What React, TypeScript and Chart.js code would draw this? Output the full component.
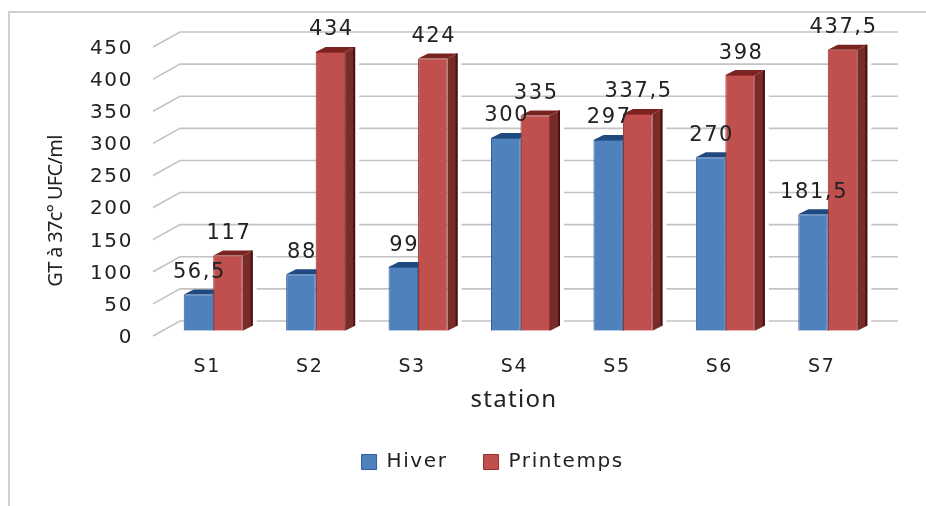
import React, { useEffect, useRef } from "react";
import { Chart, registerables } from "chart.js";

Chart.register(...registerables);

const categories = ["S1", "S2", "S3", "S4", "S5", "S6", "S7"];
const hiver = [56.5, 88, 99, 300, 297, 270, 181.5];
const printemps = [117, 434, 424, 335, 337.5, 398, 437.5];
const yTicks = [0, 50, 100, 150, 200, 250, 300, 350, 400, 450];
const xTitle = "station";
const yTitle = "GT à 37c° UFC/ml";
const faceColors = ["#4f81bd", "#c0504d"];
const edgeColors = ["#2f5f9c", "#9a2f2c"];
const sideColors = ["#2a5487", "#772c2a"];
const topColors = ["#1f4a80", "#7a2422"];
const darkEdge = ["#15304f", "#4a1110"];

const DX = 10;
const DY = 5;

const fmt = (v: number) => String(v).replace(".", ",");

const look3d = {
  id: "look3d",
  beforeDraw(chart: any) {
    (chart.ctx as any).letterSpacing = "1.6px";
  },
  beforeDatasetsDraw(chart: any) {
    const { ctx, chartArea, scales } = chart;
    const y = scales.y;
    ctx.save();
    ctx.strokeStyle = "#c3c3c3";
    ctx.lineWidth = 1.6;
    yTicks.forEach((t) => {
      const p = y.getPixelForValue(t);
      ctx.beginPath();
      ctx.moveTo(chartArea.left - 9, p + 5.3);
      ctx.lineTo(chartArea.left + 18, p - 9.7);
      ctx.lineTo(chartArea.right + 19, p - 9.7);
      ctx.stroke();
    });
    chart.data.datasets.forEach((_: any, di: number) => {
      chart.getDatasetMeta(di).data.forEach((bar: any) => {
        const w = bar.width;
        const r = bar.x + w / 2;
        const l = bar.x - w / 2;
        const t = bar.y;
        const b = bar.base;
        ctx.fillStyle = "#ffffff";
        ctx.fillRect(r, t - DY, DX + 4, b - t + DY - 4);
        ctx.fillStyle = sideColors[di];
        ctx.beginPath();
        ctx.moveTo(r, t);
        ctx.lineTo(r + DX, t - DY);
        ctx.lineTo(r + DX, b - DY);
        ctx.lineTo(r, b);
        ctx.closePath();
        ctx.fill();
        ctx.strokeStyle = darkEdge[di];
        ctx.lineWidth = 2;
        ctx.beginPath();
        ctx.moveTo(r + DX - 1, t - DY);
        ctx.lineTo(r + DX - 1, b - DY);
        ctx.stroke();
        ctx.fillStyle = topColors[di];
        ctx.beginPath();
        ctx.moveTo(l, t);
        ctx.lineTo(l + DX, t - DY);
        ctx.lineTo(r + DX, t - DY);
        ctx.lineTo(r, t);
        ctx.closePath();
        ctx.fill();
      });
    });
    ctx.restore();
  },
  afterDatasetsDraw(chart: any) {
    const { ctx } = chart;
    ctx.save();
    ctx.font = "21px 'DejaVu Sans'";
    ctx.fillStyle = "#222222";
    ctx.textAlign = "center";
    ctx.textBaseline = "middle";
    chart.data.datasets.forEach((ds: any, di: number) => {
      chart.getDatasetMeta(di).data.forEach((bar: any, i: number) => {
        ctx.fillText(fmt(ds.data[i]), bar.x + 1, bar.y - 22);
      });
    });
    ctx.restore();
  },
  afterDraw(chart: any) {
    const { ctx } = chart;
    ctx.save();
    ctx.fillStyle = "#222222";
    ctx.textAlign = "center";
    ctx.textBaseline = "middle";
    ctx.font = "24px 'Noto Sans'";
    (ctx as any).letterSpacing = "1.3px";
    ctx.fillText(xTitle, 514, 400);
    ctx.translate(56, 211);
    ctx.rotate(-Math.PI / 2);
    ctx.font = "20px 'Noto Sans'";
    (ctx as any).letterSpacing = "-0.7px";
    ctx.fillText(yTitle, 0, 0);
    ctx.restore();
  },
  afterLayout(chart: any) {
    const lg = chart.legend;
    lg.left += 36;
    lg.right += 36;
    if (lg.legendHitBoxes) lg.legendHitBoxes.forEach((h: any) => (h.left += 36));
  },
};

export default function App() {
  const ref = useRef<HTMLCanvasElement>(null);
  useEffect(() => {
    document.body.style.margin = "0";
    const tickFont = { family: "'DejaVu Sans'", size: 20 };
    const chart = new Chart(ref.current as HTMLCanvasElement, {
      type: "bar",
      data: {
        labels: categories,
        datasets: [
          { label: "Hiver", data: hiver, backgroundColor: faceColors[0], borderColor: edgeColors[0], borderWidth: 1, categoryPercentage: 0.576, barPercentage: 1 },
          { label: "Printemps", data: printemps, backgroundColor: faceColors[1], borderColor: edgeColors[1], borderWidth: 1, categoryPercentage: 0.576, barPercentage: 1 },
        ],
      },
      options: {
        responsive: false,
        animation: false,
        layout: { padding: { left: 12, right: 47, top: 41.7, bottom: 24 } },
        plugins: {
          title: { display: false },
          tooltip: { enabled: false },
          legend: {
            position: "bottom",
            labels: {
              boxWidth: 15,
              boxHeight: 15,
              padding: 36,
              color: "#222222",
              font: { family: "'DejaVu Sans'", size: 20 },
            },
          },
        },
        scales: {
          x: {
            grid: { display: false, drawTicks: false },
            border: { display: false },
            ticks: { font: { family: "'DejaVu Sans'", size: 19 }, color: "#222222", padding: 25, labelOffset: -6, maxRotation: 0 },
            afterFit(s: any) {
              s.height = 85.3;
            },
          },
          y: {
            min: 0,
            max: 450,
            afterBuildTicks(s: any) {
              s.ticks = yTicks.map((v) => ({ value: v }));
            },
            grid: { display: false, drawTicks: false },
            border: { display: false },
            ticks: { font: tickFont, color: "#222222", padding: 29, labelOffset: 7 },
            afterFit(s: any) {
              s.width = 150;
            },
          },
        },
      } as any,
      plugins: [look3d],
    });
    return () => chart.destroy();
  }, []);
  return (
    <div style={{ position: "relative", width: 926, height: 506, background: "#ffffff", overflow: "hidden" }}>
      <div style={{ position: "absolute", left: 8, top: 11, right: 0, bottom: 0, borderLeft: "2px solid #d0d0d0", borderTop: "2px solid #d0d0d0" }} />
      <canvas ref={ref} width={926} height={506} style={{ position: "absolute", left: 0, top: 0 }} />
    </div>
  );
}
